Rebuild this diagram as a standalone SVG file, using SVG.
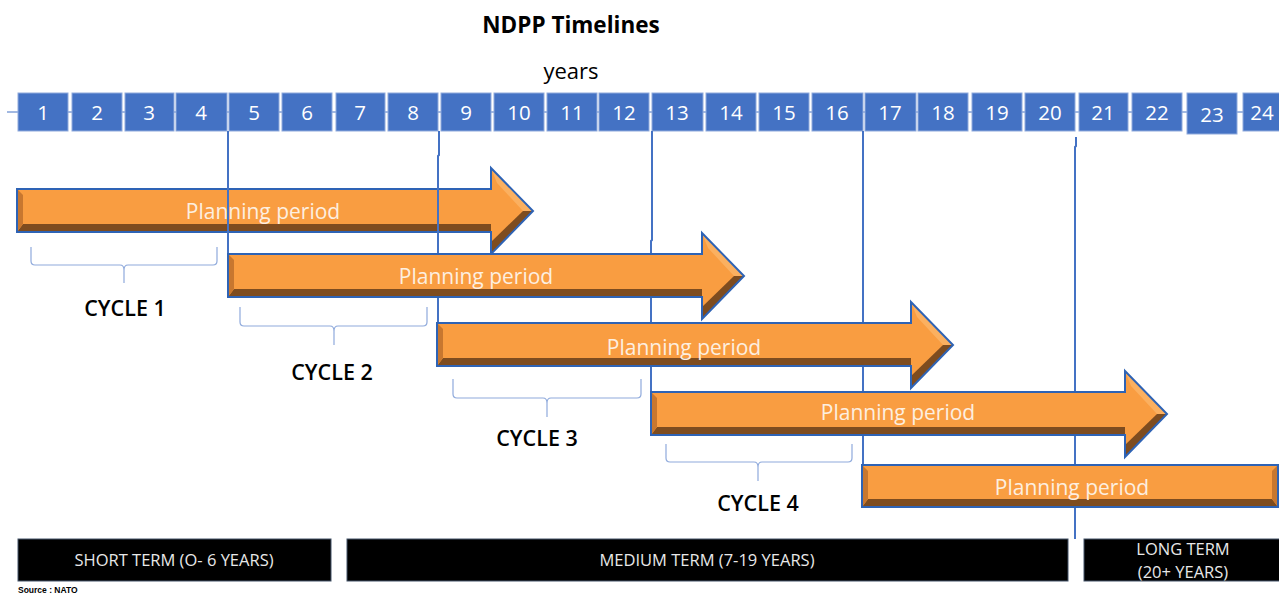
<svg xmlns="http://www.w3.org/2000/svg" xmlns:xlink="http://www.w3.org/1999/xlink" width="1279" height="595" viewBox="0 0 1279 595">
<style>
.box{fill:#4472C4;stroke:#8FAADC;stroke-width:1}
.num{font-family:"Open Sans","Liberation Sans",sans-serif;font-size:20.5px;fill:#FFFFFF;text-anchor:middle}
.ptxt{font-family:"Open Sans","Liberation Sans",sans-serif;font-size:21px;fill:#FDEFE0;text-anchor:middle}
.cyc{font-family:"Open Sans","Liberation Sans",sans-serif;font-size:21.5px;font-weight:600;fill:#000000;text-anchor:middle}
.term{fill:#000000;stroke:#44546A;stroke-width:1}
.ttxt{font-family:"Open Sans","Liberation Sans",sans-serif;font-size:16.5px;fill:#E8E8E8;text-anchor:middle}
.vline{stroke:#4472C4;stroke-width:2;fill:none}
.brace{stroke:#8FAADC;stroke-width:1.2;fill:none}
.orange{fill:#F99D41}
.dark{fill:#7E4C1F}
.left{fill:#C8772F}
.light{fill:#FBB060}
.outline{fill:none;stroke:#2E63B5;stroke-width:2}
</style>
<defs>
<g id="arrow">
<path class="orange" d="M0,0 H474 V-21 L516,22 L474,65 V43 H0 Z"/>
<polygon class="dark" points="0,43 474,43 474,35 6,35"/>
<polygon class="left" points="0,0 6,6 6,35 0,43"/>
<polygon class="light" points="474,-21 516,22 506,22 480,-6"/>
<polygon class="dark" points="516,22 474,65 474,53 506,22"/>
<path class="outline" d="M0,0 H474 V-21 L516,22 L474,65 V43 H0 Z"/>
</g>
</defs>
<rect width="1279" height="595" fill="#FFFFFF"/>
<text x="571" y="33" font-family="Open Sans, Liberation Sans, sans-serif" font-size="22.5" font-weight="bold" text-anchor="middle" fill="#000">NDPP Timelines</text>
<text x="571" y="79" font-family="Open Sans, Liberation Sans, sans-serif" font-size="22" text-anchor="middle" fill="#000">years</text>
<g id="timeline">
<line x1="7" y1="112" x2="1279" y2="112" stroke="#4472C4" stroke-width="1"/>
<g id="y1"><rect class="box" x="18" y="93" width="50" height="38"/><text class="num" x="43" y="120">1</text></g>
<g id="y2"><rect class="box" x="72" y="93" width="50" height="38"/><text class="num" x="97" y="120">2</text></g>
<g id="y3"><rect class="box" x="125" y="93" width="49" height="38"/><text class="num" x="149" y="120">3</text></g>
<g id="y4"><rect class="box" x="176" y="93" width="51" height="38"/><text class="num" x="201" y="120">4</text></g>
<g id="y5"><rect class="box" x="229" y="93" width="50" height="38"/><text class="num" x="254" y="120">5</text></g>
<g id="y6"><rect class="box" x="282" y="93" width="50" height="38"/><text class="num" x="307" y="120">6</text></g>
<g id="y7"><rect class="box" x="336" y="93" width="49" height="38"/><text class="num" x="360" y="120">7</text></g>
<g id="y8"><rect class="box" x="388" y="93" width="50" height="38"/><text class="num" x="413" y="120">8</text></g>
<g id="y9"><rect class="box" x="441" y="93" width="50" height="38"/><text class="num" x="466" y="120">9</text></g>
<g id="y10"><rect class="box" x="494" y="93" width="50" height="38"/><text class="num" x="519" y="120">10</text></g>
<g id="y11"><rect class="box" x="547" y="93" width="50" height="38"/><text class="num" x="572" y="120">11</text></g>
<g id="y12"><rect class="box" x="599" y="93" width="50" height="38"/><text class="num" x="624" y="120">12</text></g>
<g id="y13"><rect class="box" x="652" y="93" width="51" height="38"/><text class="num" x="677" y="120">13</text></g>
<g id="y14"><rect class="box" x="706" y="93" width="50" height="38"/><text class="num" x="731" y="120">14</text></g>
<g id="y15"><rect class="box" x="759" y="93" width="50" height="38"/><text class="num" x="784" y="120">15</text></g>
<g id="y16"><rect class="box" x="812" y="93" width="51" height="38"/><text class="num" x="837" y="120">16</text></g>
<g id="y17"><rect class="box" x="865" y="93" width="51" height="38"/><text class="num" x="890" y="120">17</text></g>
<g id="y18"><rect class="box" x="918" y="93" width="50" height="38"/><text class="num" x="943" y="120">18</text></g>
<g id="y19"><rect class="box" x="972" y="93" width="50" height="38"/><text class="num" x="997" y="120">19</text></g>
<g id="y20"><rect class="box" x="1025" y="93" width="50" height="38"/><text class="num" x="1050" y="120">20</text></g>
<g id="y21"><rect class="box" x="1079" y="93" width="49" height="38"/><text class="num" x="1103" y="120">21</text></g>
<g id="y22"><rect class="box" x="1132" y="93" width="50" height="38"/><text class="num" x="1157" y="120">22</text></g>
<g id="y23"><rect class="box" x="1187" y="93" width="50" height="41"/><text class="num" x="1212" y="122">23</text></g>
<g id="y24"><rect class="box" x="1243" y="93" width="50" height="38"/><text class="num" x="1262" y="120">24</text></g>
</g>
<g id="arrow1"><use xlink:href="#arrow" href="#arrow" transform="translate(17,189)"/><text class="ptxt" x="263" y="219">Planning period</text></g>
<g id="connectors">
<line class="vline" x1="228" y1="131" x2="228" y2="298"/>
<polyline class="vline" points="439,131 439,155 438,156 438,367"/>
<polyline class="vline" points="652,131 652,240 651,241 651,435"/>
<line class="vline" x1="863" y1="131" x2="863" y2="507"/>
<polyline class="vline" points="1076,137 1076,146 1075,147 1075,539"/>
</g>
<g id="arrow2"><use xlink:href="#arrow" href="#arrow" transform="translate(228,254)"/><text class="ptxt" x="476" y="284">Planning period</text></g>
<g id="arrow3"><use xlink:href="#arrow" href="#arrow" transform="translate(437,323)"/><text class="ptxt" x="684" y="355">Planning period</text></g>
<g id="arrow4"><use xlink:href="#arrow" href="#arrow" transform="translate(651,392)"/><text class="ptxt" x="898" y="420">Planning period</text></g>
<g id="arrow5">
<rect class="orange" x="862" y="465" width="416" height="42"/>
<polygon class="dark" points="862,507 1278,507 1272,499 868,499"/>
<polygon class="left" points="862,465 868,471 868,499 862,507"/>
<polygon class="left" points="1278,465 1272,471 1272,499 1278,507"/>
<rect class="outline" x="862" y="465" width="416" height="42"/>
<text class="ptxt" x="1072" y="495">Planning period</text>
</g>
<g id="cycle1">
<path class="brace" d="M31,247 V261 Q31,265 35,265 H120 Q124,265 124,270 V283 M124,270 Q124,265 128,265 H213 Q217,265 217,261 V247"/>
<text class="cyc" x="125" y="316">CYCLE 1</text>
</g>
<g id="cycle2">
<path class="brace" d="M240,307 V322 Q240,326 244,326 H330 Q334,326 334,331 V345 M334,331 Q334,326 338,326 H423 Q427,326 427,322 V307"/>
<text class="cyc" x="332" y="380">CYCLE 2</text>
</g>
<g id="cycle3">
<path class="brace" d="M453,379 V394 Q453,398 457,398 H543 Q547,398 547,403 V417 M547,403 Q547,398 551,398 H637 Q641,398 641,394 V379"/>
<text class="cyc" x="537" y="446">CYCLE 3</text>
</g>
<g id="cycle4">
<path class="brace" d="M666,444 V458 Q666,462 670,462 H754 Q758,462 758,467 V481 M758,467 Q758,462 762,462 H848 Q852,462 852,458 V444"/>
<text class="cyc" x="758" y="511">CYCLE 4</text>
</g>
<g id="short">
<rect class="term" x="18" y="539" width="313" height="42"/>
<text class="ttxt" x="174" y="566">SHORT TERM (O- 6 YEARS)</text>
</g>
<g id="medium">
<rect class="term" x="347" y="539" width="721" height="42"/>
<text class="ttxt" x="707" y="566">MEDIUM TERM (7-19 YEARS)</text>
</g>
<g id="long">
<rect class="term" x="1084" y="539" width="200" height="42"/>
<text class="ttxt" x="1183" y="555">LONG TERM</text>
<text class="ttxt" x="1183" y="578">(20+ YEARS)</text>
</g>
<text x="18" y="593" font-family="Liberation Sans, sans-serif" font-size="8.5" font-weight="bold" fill="#000">Source : NATO</text>
</svg>
